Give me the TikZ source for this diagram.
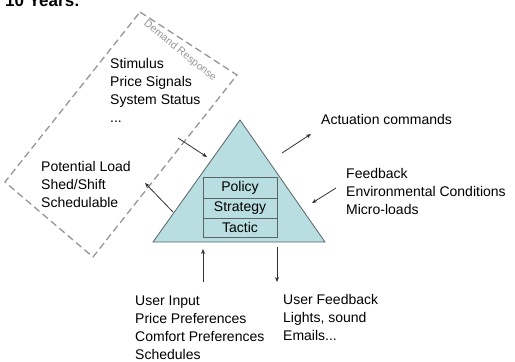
\documentclass[tikz,border=0pt]{standalone}
\usepackage{fontspec}
\setmainfont{Liberation Sans}
\usetikzlibrary{arrows.meta}
\definecolor{trifill}{RGB}{184,222,226}
\definecolor{triline}{RGB}{90,100,100}
\definecolor{dashgray}{RGB}{150,150,150}
\definecolor{arrowgray}{RGB}{50,50,50}
\tikzset{
  lbl/.style={anchor=base west, align=left, inner sep=0pt, font=\fontsize{14}{18}\selectfont},
  cell/.style={draw=triline, line width=0.8pt, fill=trifill, minimum width=74pt, minimum height=20pt, inner sep=0pt, font=\fontsize{14}{16}\selectfont},
  arr/.style={draw=arrowgray, line width=0.8pt, -{Stealth[length=5pt,width=4pt]}},
}
\begin{document}
\begin{tikzpicture}[x=1pt,y=-1pt]
\useasboundingbox (0,0) rectangle (515,362);
\clip (0,0) rectangle (515,362);
% partially visible heading
\node[anchor=base west, inner sep=0pt, font=\fontsize{17}{20}\selectfont\bfseries] (head) at (5,6) {10 Years:};
% demand response dashed region
\draw[dashgray, dashed, dash pattern=on 7pt off 4pt, line width=1.3pt] (140,12) -- (237,75) -- (93,257) -- (5,182) -- cycle;
\node[text=dashgray, rotate=-39, font=\fontsize{10.5}{11}\selectfont, inner sep=0pt] (dr) at (180,51) {Demand Response};
% pyramid
\draw[draw=triline, fill=trifill, line width=0.8pt] (240,120) -- (325,242) -- (153,242) -- cycle;
\coordinate (apex) at (240,120);
\node[cell, minimum height=21pt] (policy) at (240,187.5) {Policy};
\node[cell] (strategy) at (240,208) {Strategy};
\node[cell, minimum height=19pt] (tactic) at (240,227.5) {Tactic};
% labels (anchored at the baseline of their last line)
\node[lbl] (stim) at (110,122) {Stimulus\\Price Signals\\System Status\\...};
\node[lbl] (pot) at (41,207) {Potential Load\\Shed/Shift\\Schedulable};
\node[lbl] (act) at (321,124) {Actuation commands};
\node[lbl] (fb) at (346,214) {Feedback\\Environmental Conditions\\Micro-loads};
\node[lbl] (ui) at (135,359) {User Input\\Price Preferences\\Comfort Preferences\\Schedules};
\node[lbl] (uf) at (283,340) {User Feedback\\Lights, sound\\Emails...};
% arrow end points
\coordinate (a1s) at (178,138); \coordinate (a1e) at (207,157);
\coordinate (a2s) at (173,212); \coordinate (a2e) at (145,183);
\coordinate (a3s) at (282,153); \coordinate (a3e) at (311,134);
\coordinate (a4s) at (336,188); \coordinate (a4e) at (312,203);
\coordinate (a5s) at (203,282); \coordinate (a5e) at (203,249);
\coordinate (a6s) at (277,247); \coordinate (a6e) at (277,282);
\draw[arr] (a1s) -- (a1e);
\draw[arr] (a2s) -- (a2e);
\draw[arr] (a3s) -- (a3e);
\draw[arr] (a4s) -- (a4e);
\draw[arr] (a5s) -- (a5e);
\draw[arr] (a6s) -- (a6e);
\end{tikzpicture}
\end{document}
